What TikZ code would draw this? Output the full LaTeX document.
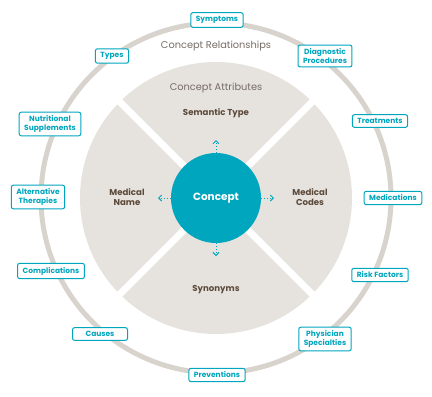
\documentclass[tikz,border=0pt]{standalone}
\usepackage{fontspec}
\setmainfont{Poppins}
\usetikzlibrary{arrows.meta}
\definecolor{teal1}{RGB}{0,166,190}
\definecolor{ringc}{RGB}{217,211,205}
\definecolor{quadc}{RGB}{230,226,222}
\definecolor{brownc}{RGB}{92,74,58}
\definecolor{greyc}{RGB}{118,108,102}
\tikzset{
  relbox/.style={draw=teal1, line width=1pt, fill=white, rounded corners=2pt,
    text=teal1, font=\fontsize{7.5}{8.4}\selectfont\bfseries, align=center,
    inner xsep=5pt, inner ysep=3.6pt},
  quadlabel/.style={text=brownc, font=\fontsize{8.6}{10.5}\selectfont\bfseries, align=center},
  headlabel/.style={text=greyc, font=\fontsize{9.8}{11}\selectfont},
  outarrow/.style={teal1, line width=1pt, dotted, -{Straight Barb[length=3pt,width=6pt]}}
}
\begin{document}
\begin{tikzpicture}[x=1pt,y=-1pt]
\useasboundingbox (0,0) rectangle (432,397);
% outer relationship ring
\draw[ringc, line width=5pt] (216,198) circle (175);
% attribute disc split into four quadrants
\fill[quadc] (216,198) circle (136);
\draw[white, line width=7pt] (216,198) ++(45:140) -- ++(225:280);
\draw[white, line width=7pt] (216,198) ++(135:140) -- ++(315:280);
% central concept
\node[circle, fill=teal1, minimum size=90pt, inner sep=0pt, text=white,
      font=\fontsize{10.5}{12}\selectfont\bfseries] (concept) at (216,198) {Concept};
\coordinate (up) at (216,140);
\coordinate (down) at (216,256);
\coordinate (left) at (158,198);
\coordinate (right) at (274,198);
\draw[outarrow] (concept.north) -- (up);
\draw[outarrow] (concept.south) -- (down);
\draw[outarrow] (concept.west) -- (left);
\draw[outarrow] (concept.east) -- (right);
% headings
\node[headlabel] (relhead) at (216,46) {Concept Relationships};
\node[headlabel] (atthead) at (216,88) {Concept Attributes};
% attributes
\node[quadlabel] (sem) at (216,113) {Semantic Type};
\node[quadlabel] (mname) at (127,197) {Medical\\Name};
\node[quadlabel] (mcodes) at (310,197) {Medical\\Codes};
\node[quadlabel] (syn) at (216,290) {Synonyms};
% relationships
\node[relbox] (symptoms) at (217,20) {Symptoms};
\node[relbox] (types) at (112,56) {Types};
\node[relbox] (diag) at (325,56) {Diagnostic\\Procedures};
\node[relbox] (treat) at (380,121) {Treatments};
\node[relbox] (nutri) at (50,124) {Nutritional\\Supplements};
\node[relbox] (alt) at (38,197) {Alternative\\Therapies};
\node[relbox] (meds) at (393,198) {Medications};
\node[relbox] (compl) at (51,271) {Complications};
\node[relbox] (risk) at (380,275) {Risk Factors};
\node[relbox, minimum width=55pt] (causes) at (100,334) {Causes};
\node[relbox] (phys) at (325,339) {Physician\\Specialties};
\node[relbox] (prev) at (217,375) {Preventions};
\end{tikzpicture}
\end{document}
